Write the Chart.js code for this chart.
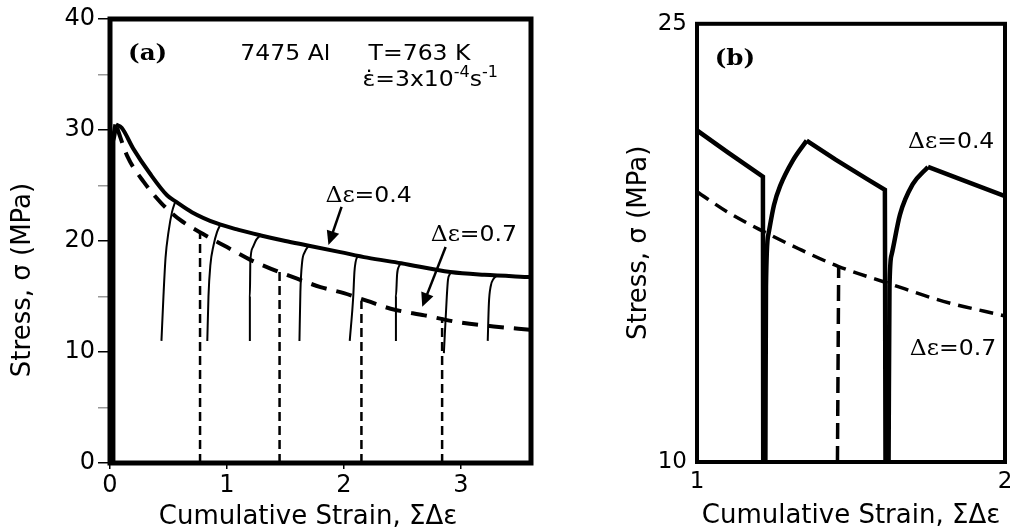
<!DOCTYPE html>
<html>
<head>
<meta charset="utf-8">
<script src="https://cdn.jsdelivr.net/npm/chart.js@4.4.1/dist/chart.umd.min.js"></script>
<style>
html,body{margin:0;padding:0;background:#fff;}
#wrap{position:relative;width:1010px;height:532px;overflow:hidden;background:#fff;}
#ca{position:absolute;left:0;top:0;}
#cb{position:absolute;left:580px;top:0;}
</style>
</head>
<body>
<div id="wrap">
  <canvas id="ca" width="570" height="532"></canvas>
  <canvas id="cb" width="430" height="532"></canvas>
</div>
<script>
// ---- panel (a) : whole test, 0..3.6 strain ----
const envX04 = [0.05,0.1,0.2,0.34,0.49,0.57,0.7,0.91,1.1,1.29,1.5,1.69,1.97,2.2,2.49,2.91,3.2,3.6]
const envY04 = [30.5,30.2,28.3,26.1,24.1,23.5,22.6,21.6,21.0,20.5,20.0,19.6,19.0,18.5,18.0,17.2,16.95,16.75]
const envX07 = [0.06,0.15,0.29,0.44,0.6,0.8,1.0,1.2,1.4,1.6,1.8,2.0,2.2,2.4,2.69,2.97,3.28,3.6]
const envY07 = [30.2,27.6,25.3,23.4,21.9,20.6,19.45,18.3,17.4,16.6,15.85,15.3,14.6,13.9,13.3,12.7,12.3,12.0]
const loadX = [0.02,0.025,0.05]
const loadY = [0,29,30.5]
// reload curves (thin solid), [strain, stress]
const reloads04 = [
  [[0.44,11],[0.457,15],[0.475,18.5],[0.5,20.8],[0.53,22.6],[0.56,23.6]],
  [[0.832,11],[0.842,15],[0.858,17.8],[0.885,19.6],[0.915,20.8],[0.945,21.5]],
  [[1.196,11],[1.196,15],[1.2,18.1],[1.22,19.4],[1.25,20.1],[1.285,20.5]],
  [[1.62,11],[1.628,15.4],[1.643,18.1],[1.665,19.0],[1.70,19.6]],
  [[2.05,11],[2.08,15],[2.09,17.2],[2.1,18.1],[2.12,18.7]],
  [[2.445,11],[2.445,15],[2.455,17.0],[2.47,17.7],[2.49,18.0]],
  [[2.855,9.9],[2.88,15],[2.89,16.5],[2.905,17.0],[2.92,17.2]],
  [[3.23,11],[3.24,14.4],[3.255,15.9],[3.28,16.6],[3.31,16.9]]
]
const unloadX07 = [0.77,1.45,2.15,2.84]
const unloadTop07 = [20.8,17.2,14.6,13.1]

// ---- panel (b) : close-up 1..2 strain ----
const solidB = [
  [[1.0,21.35],[1.1,20.6],[1.214,19.77],[1.215,10]],
  [[1.356,21.0],[1.45,20.35],[1.55,19.7],[1.61,19.32],[1.612,10]],
  [[1.75,20.1],[1.85,19.7],[2.0,19.1]]
]
const reloadB = [
  [[1.222,10],[1.224,16],[1.232,17.8],[1.25,18.8],[1.27,19.45],[1.31,20.3],[1.356,21.0]],
  [[1.622,10],[1.625,16],[1.632,17.1],[1.659,18.47],[1.70,19.5],[1.75,20.1]]
]
const dashBX = [1.0,1.1,1.214,1.33,1.458,1.626,1.8,2.0]
const dashBY = [19.25,18.55,17.9,17.3,16.7,16.1,15.5,15.0]
const unloadB = [[1.456,10],[1.46,16.7]]
const xTicksB = [1,2]
const yTicksB = [10,25]

const xTitle = 'Cumulative Strain, ΣΔε'
const yTitle = 'Stress, σ (MPa)'

function pts(xs, ys){ return xs.map((x,i)=>({x:x, y:ys[i]})) }
function pairs(p){ return p.map(q=>({x:q[0], y:q[1]})) }
function line(data, w, dash, smooth){
  return {data:data, showLine:true, pointRadius:0, borderColor:'#000', borderWidth:w,
    borderDash:dash||[], cubicInterpolationMode: smooth?'monotone':'default', tension:0, fill:false}
}

function drawParts(ctx, x, y, parts, sx){
  ctx.save()
  ctx.translate(x, y)
  ctx.scale(sx, 1)
  ctx.textBaseline='middle'
  ctx.fillStyle='#000'
  let cx=0
  parts.forEach(p=>{
    ctx.font=p.font
    ctx.fillText(p.t, cx, p.dy||0)
    cx+=ctx.measureText(p.t).width
  })
  ctx.restore()
}
function arrow(ctx, x1, y1, x2, y2){
  const a=Math.atan2(y2-y1, x2-x1), L=14, W=6.5
  ctx.save()
  ctx.strokeStyle='#000'; ctx.fillStyle='#000'; ctx.lineWidth=2.5
  ctx.beginPath(); ctx.moveTo(x1,y1); ctx.lineTo(x2-L*0.8*Math.cos(a), y2-L*0.8*Math.sin(a)); ctx.stroke()
  ctx.beginPath()
  ctx.moveTo(x2,y2)
  ctx.lineTo(x2-L*Math.cos(a)+W*Math.sin(a), y2-L*Math.sin(a)-W*Math.cos(a))
  ctx.lineTo(x2-L*Math.cos(a)-W*Math.sin(a), y2-L*Math.sin(a)+W*Math.cos(a))
  ctx.closePath(); ctx.fill()
  ctx.restore()
}

const SANS='"DejaVu Sans"', SERIF='"DejaVu Serif"'
function deltaLabel(v){
  return [{t:'Δε', font:'22px '+SERIF},{t:'='+v, font:'22px '+SANS}]
}

function notesPlugin(notes, arrows, frameW, titles){
  return {
    id:'notes',
    afterDatasetsDraw(chart){
      const ctx=chart.ctx, xs=chart.scales.x, ys=chart.scales.y, a=chart.chartArea
      notes.forEach(n=>drawParts(ctx, xs.getPixelForValue(n.x), ys.getPixelForValue(n.y), n.parts, 1.07))
      arrows.forEach(r=>arrow(ctx, xs.getPixelForValue(r[0]), ys.getPixelForValue(r[1]),
        xs.getPixelForValue(r[2]), ys.getPixelForValue(r[3])))
      ctx.save()
      ctx.strokeStyle='#000'; ctx.lineWidth=frameW
      ctx.strokeRect(a.left, a.top, a.right-a.left, a.bottom-a.top)
      ctx.restore()
      if(titles){
        ctx.save()
        ctx.fillStyle='#000'; ctx.font='26px '+SANS
        ctx.textAlign='center'; ctx.textBaseline='middle'
        ctx.fillText(xTitle, titles.x[0], titles.x[1])
        ctx.translate(titles.y[0], titles.y[1]); ctx.rotate(-Math.PI/2)
        ctx.fillText(yTitle, 0, 0)
        ctx.restore()
      }
    }
  }
}

// ---------- chart (a) ----------
let dsA=[]
dsA.push(line(pts(loadX, loadY), 5, null, false))
reloads04.forEach(r=>dsA.push(line(pairs(r), 2, null, true)))
unloadX07.forEach((x,i)=>dsA.push(line([{x:x,y:0},{x:x,y:unloadTop07[i]}], 2.5, [9,5], false)))
dsA.push(line(pts(envX04, envY04), 4, null, true))
dsA.push(line(pts(envX07, envY07), 4, [16,10], true))

new Chart(document.getElementById('ca'), {
  type:'scatter',
  data:{datasets:dsA},
  options:{
    responsive:false, animation:false, events:[],
    layout:{padding:{top:19, right:39, left:0, bottom:0}},
    plugins:{legend:{display:false}, tooltip:{enabled:false}},
    scales:{
      x:{type:'linear', min:0, max:3.6,
        afterFit:s=>{s.height=69},
        ticks:{stepSize:1, includeBounds:false, color:'#000', maxRotation:0, padding:2,
          font:{family:'DejaVu Sans', size:24}},
        grid:{drawOnChartArea:false, tickLength:6, color:'#000', lineWidth:1.5},
        border:{display:false}
      },
      y:{type:'linear', min:0, max:40,
        afterFit:s=>{s.width=110},
        ticks:{stepSize:5, color:'#000', padding:3,
          font:{family:'DejaVu Sans', size:24},
          callback:v=>v%10===0?v:''},
        grid:{drawOnChartArea:false, tickLength:12,
          color:c=>c.tick && c.tick.value%10===0?'#000':'#999', lineWidth:1.5},
        border:{display:false}
      }
    }
  },
  plugins:[notesPlugin([
    {x:0.154, y:36.8, parts:[{t:'(a)', font:'bold 23px '+SERIF}]},
    {x:1.114, y:36.8, parts:[{t:'7475 Al', font:'22px '+SANS}]},
    {x:2.211, y:36.8, parts:[{t:'T=763 K', font:'22px '+SANS}]},
    {x:2.159, y:34.5, parts:[{t:'\u03b5\u0307=3x10', font:'22px '+SANS},{t:'-4', font:'15px '+SANS, dy:-7},
      {t:'s', font:'22px '+SANS},{t:'-1', font:'15px '+SANS, dy:-7}]},
    {x:1.842, y:24.06, parts:deltaLabel('0.4')},
    {x:2.742, y:20.5, parts:deltaLabel('0.7')}
  ], [
    [1.98, 23.07, 1.868, 19.64],
    [2.87, 19.46, 2.67, 14.07]
  ], 5, {x:[308, 517], y:[23, 280]})]
})

// ---------- chart (b) ----------
let dsB=[]
solidB.forEach(s=>dsB.push(line(pairs(s), 4.5, null, false)))
reloadB.forEach(r=>dsB.push(line(pairs(r), 4.5, null, true)))
dsB.push(line(pairs(unloadB), 3.5, [16,7], false))
dsB.push(line(pts(dashBX, dashBY), 3.5, [14,8], true))

new Chart(document.getElementById('cb'), {
  type:'scatter',
  data:{datasets:dsB},
  options:{
    responsive:false, animation:false, events:[],
    layout:{padding:{top:22, right:5, left:0, bottom:0}},
    plugins:{legend:{display:false}, tooltip:{enabled:false}},
    scales:{
      x:{type:'linear', min:1, max:2,
        afterBuildTicks:s=>{s.ticks=xTicksB.map(v=>({value:v}))},
        afterFit:s=>{s.height=70; s.paddingRight=0; s.paddingLeft=0},
        ticks:{color:'#000', maxRotation:0, padding:6, font:{family:'DejaVu Sans', size:23}},
        grid:{drawOnChartArea:false, drawTicks:false},
        border:{display:false},
        title:{display:true, text:xTitle, color:'#000',
          font:{family:'DejaVu Sans', size:26}, padding:{top:0, bottom:0}}
      },
      y:{type:'linear', min:10, max:25,
        afterBuildTicks:s=>{s.ticks=yTicksB.map(v=>({value:v}))},
        afterFit:s=>{s.width=117},
        ticks:{color:'#000', padding:10, font:{family:'DejaVu Sans', size:23}},
        grid:{drawOnChartArea:false, drawTicks:false},
        border:{display:false},
        title:{display:true, text:yTitle, color:'#000',
          font:{family:'DejaVu Sans', size:26}, padding:{top:44, bottom:0}}
      }
    }
  },
  plugins:[notesPlugin([
    {x:1.0575, y:23.8, parts:[{t:'(b)', font:'bold 23px '+SERIF}]},
    {x:1.685, y:20.96, parts:deltaLabel('0.4')},
    {x:1.691, y:13.87, parts:deltaLabel('0.7')}
  ], [], 4, null)]
})
</script>
</body>
</html>
